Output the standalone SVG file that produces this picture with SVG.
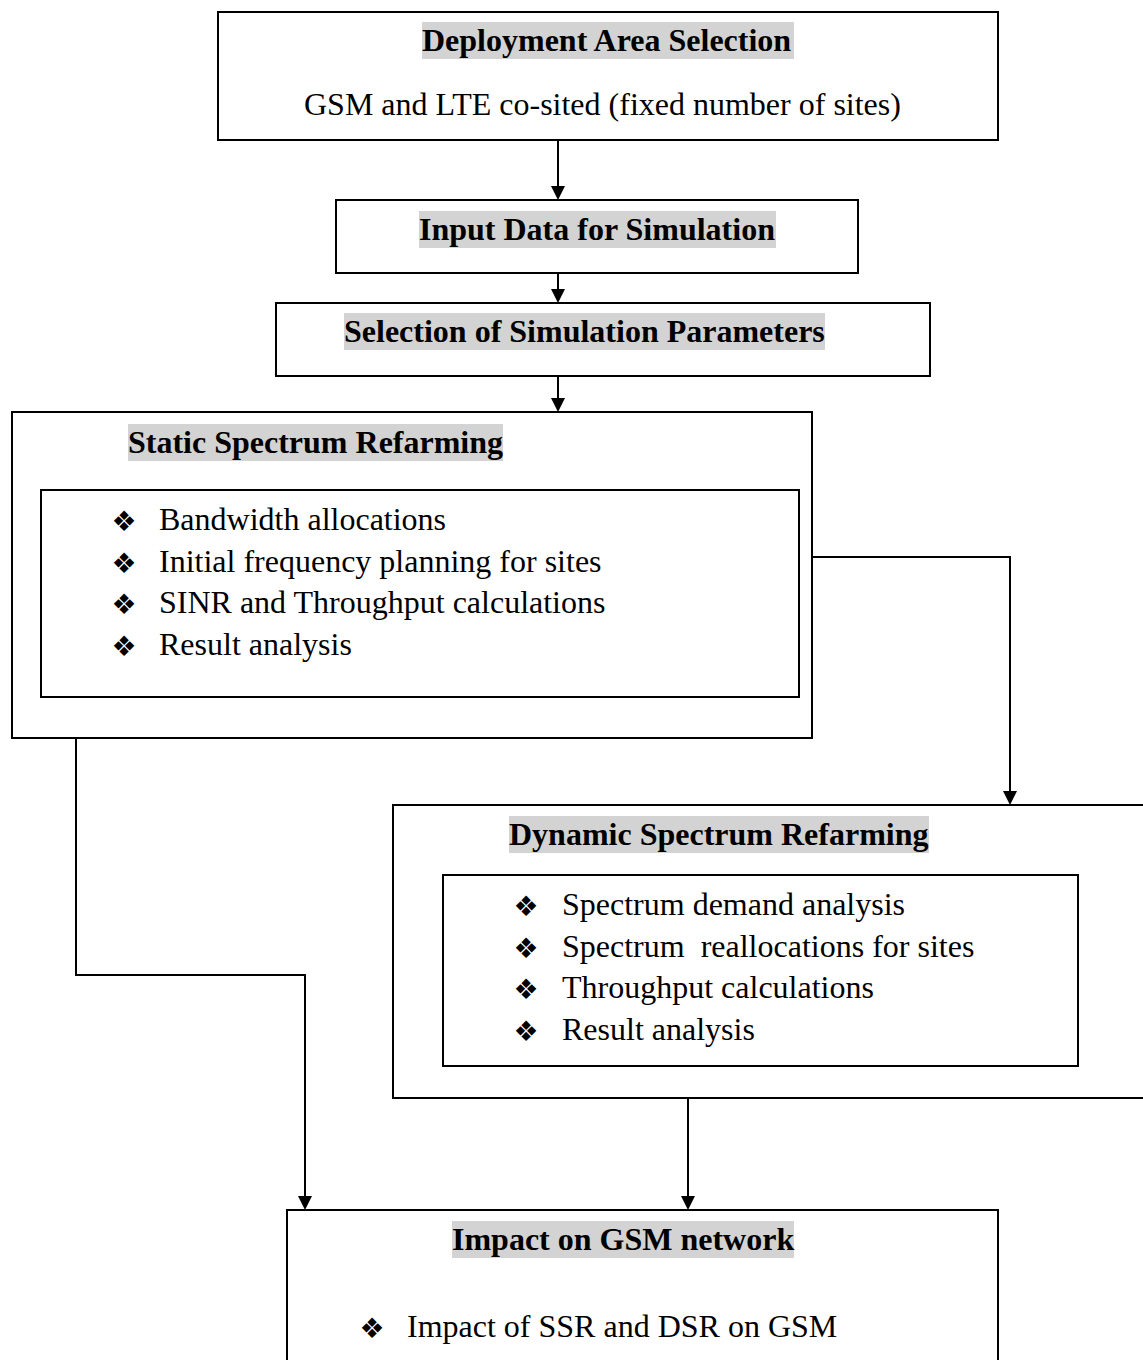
<svg xmlns="http://www.w3.org/2000/svg" width="1143" height="1360" viewBox="0 0 1143 1360">
<style>
.box{fill:#fff;stroke:#000;stroke-width:2}
.hl{fill:#d3d3d3}
.t{font-family:"Liberation Serif","Times New Roman",serif;font-size:32px;fill:#000}
.b{font-weight:bold}
.bul{font-family:"DejaVu Sans",sans-serif;font-size:28px;fill:#000;text-anchor:middle}
.con{fill:none;stroke:#000;stroke-width:2}
</style>
<defs>
<marker id="arr" markerUnits="userSpaceOnUse" markerWidth="16" markerHeight="16" refX="0" refY="8" orient="auto">
<path d="M0,1 L14,8 L0,15 z" fill="#000"/>
</marker>
</defs>
<rect width="1143" height="1360" fill="#fff"/>
<g id="connectors">
<path class="con" d="M558,140 V186" marker-end="url(#arr)"/>
<path class="con" d="M558,273 V289" marker-end="url(#arr)"/>
<path class="con" d="M558,376 V398" marker-end="url(#arr)"/>
<path class="con" d="M812,557 H1010 V791" marker-end="url(#arr)"/>
<path class="con" d="M76,738 V975 H305 V1196" marker-end="url(#arr)"/>
<path class="con" d="M688,1098 V1196" marker-end="url(#arr)"/>
</g>
<g id="deployment">
<rect class="box" x="218" y="12" width="780" height="128"/>
<rect class="hl" x="422" y="22" width="372" height="37"/>
<text class="t b" x="422" y="51">Deployment Area Selection</text>
<text class="t" x="304" y="115">GSM and LTE co-sited (fixed number of sites)</text>
</g>
<g id="input">
<rect class="box" x="336" y="200" width="522" height="73"/>
<rect class="hl" x="419" y="211" width="357" height="37"/>
<text class="t b" x="419" y="240">Input Data for Simulation</text>
</g>
<g id="selection">
<rect class="box" x="276" y="303" width="654" height="73"/>
<rect class="hl" x="344" y="313" width="481" height="37"/>
<text class="t b" x="344" y="342">Selection of Simulation Parameters</text>
</g>
<g id="static">
<rect class="box" x="12" y="412" width="800" height="326"/>
<rect class="hl" x="128" y="424" width="375" height="37"/>
<text class="t b" x="128" y="453">Static Spectrum Refarming</text>
<rect class="box" x="41" y="490" width="758" height="207"/>
<text class="bul" x="124" y="531">❖</text>
<text class="bul" x="124" y="573">❖</text>
<text class="bul" x="124" y="614">❖</text>
<text class="bul" x="124" y="656">❖</text>
<text class="t" x="159" y="530">Bandwidth allocations</text>
<text class="t" x="159" y="572">Initial frequency planning for sites</text>
<text class="t" x="159" y="613">SINR and Throughput calculations</text>
<text class="t" x="159" y="655">Result analysis</text>
</g>
<g id="dynamic">
<rect class="box" x="393" y="805" width="770" height="293"/>
<rect class="hl" x="509" y="816" width="420" height="37"/>
<text class="t b" x="509" y="845">Dynamic Spectrum Refarming</text>
<rect class="box" x="443" y="875" width="635" height="191"/>
<text class="bul" x="526" y="916">❖</text>
<text class="bul" x="526" y="958">❖</text>
<text class="bul" x="526" y="999">❖</text>
<text class="bul" x="526" y="1041">❖</text>
<text class="t" x="562" y="915">Spectrum demand analysis</text>
<text class="t" x="562" y="957" style="white-space:pre">Spectrum  reallocations for sites</text>
<text class="t" x="562" y="998">Throughput calculations</text>
<text class="t" x="562" y="1040">Result analysis</text>
</g>
<g id="impact">
<rect class="box" x="287" y="1210" width="711" height="170"/>
<rect class="hl" x="452" y="1221" width="342" height="37"/>
<text class="t b" x="452" y="1250">Impact on GSM network</text>
<text class="bul" x="372" y="1338">❖</text>
<text class="t" x="407" y="1337">Impact of SSR and DSR on GSM</text>
</g>
</svg>
